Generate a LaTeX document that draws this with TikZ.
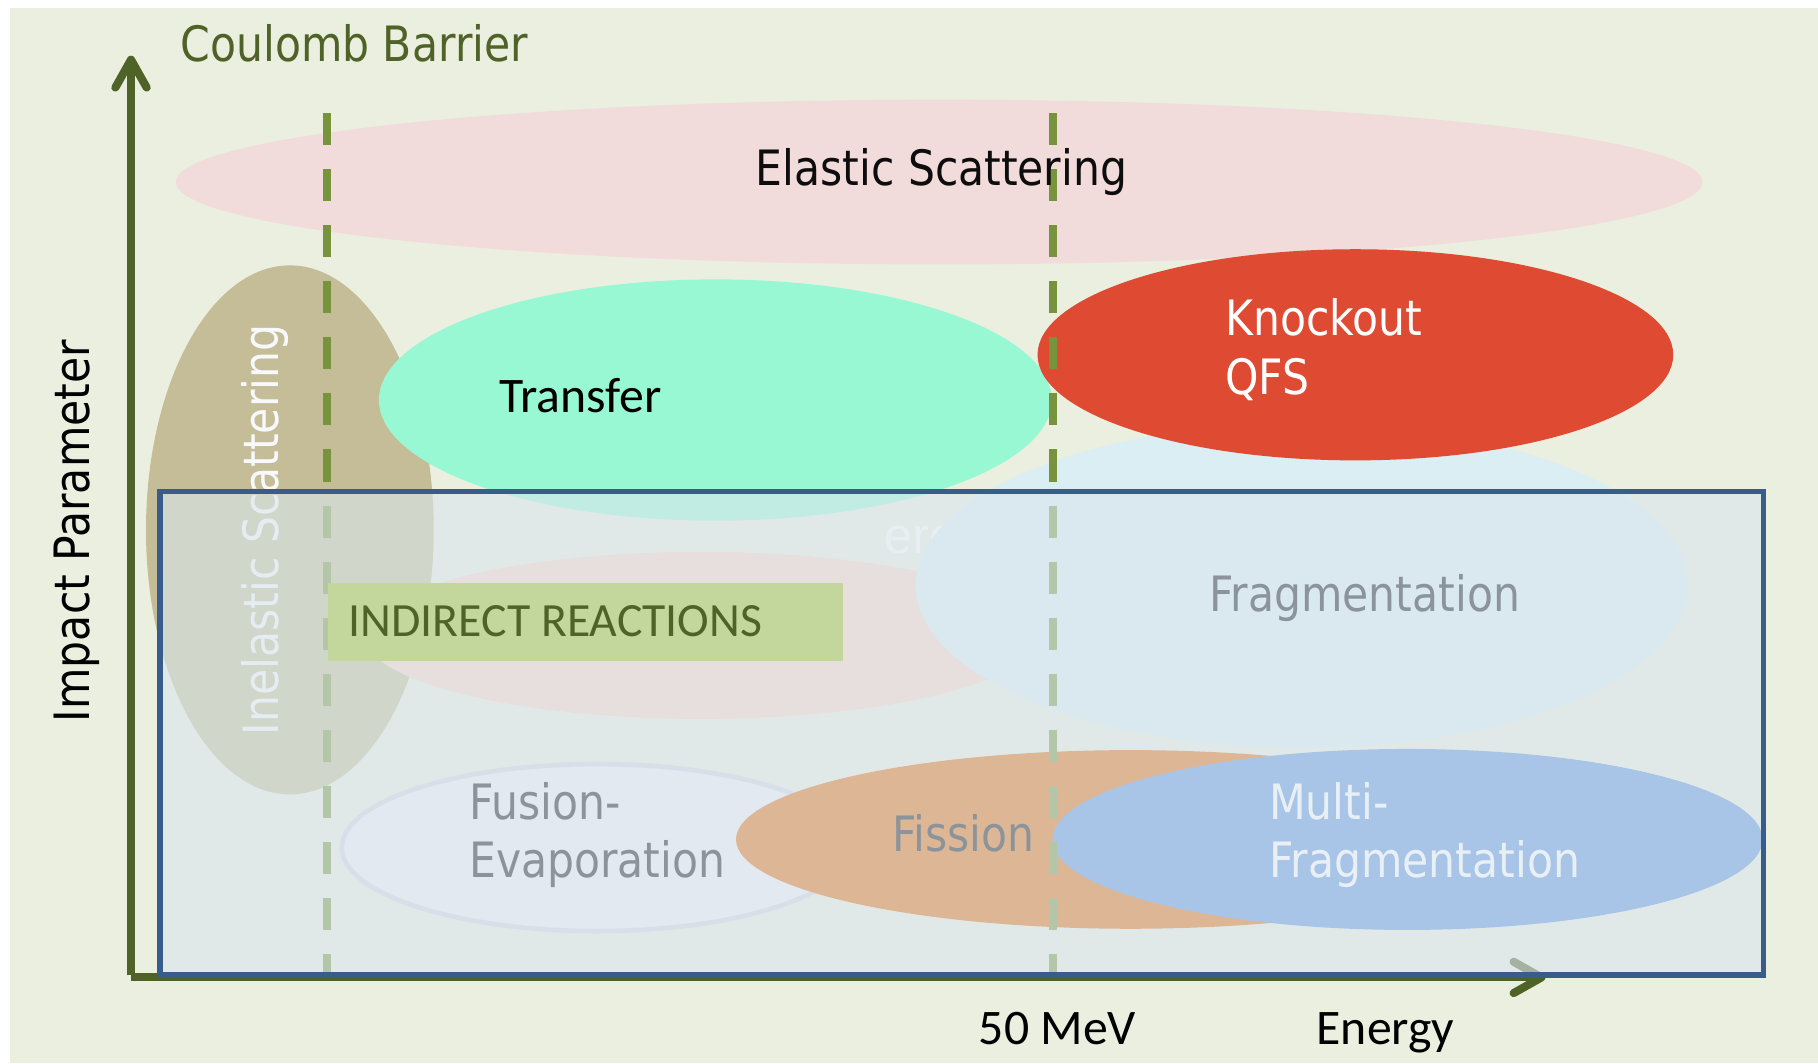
\documentclass[tikz,border=0pt]{standalone}
\usepackage{fontspec}
\setmainfont{Carlito}
\newfontfamily\tahoma[FakeStretch=0.873]{DejaVu Sans}
\newfontfamily\arialf{Liberation Sans}
\usetikzlibrary{shapes.geometric,arrows.meta}
\definecolor{bgcol}{RGB}{235,239,223}
\definecolor{axiscol}{RGB}{79,98,40}
\definecolor{dashcol}{RGB}{119,147,60}
\definecolor{elasticcol}{RGB}{242,220,219}
\definecolor{inelcol}{RGB}{196,189,151}
\definecolor{transcol}{RGB}{153,248,212}
\definecolor{pinkcol}{RGB}{252,214,200}
\definecolor{knockcol}{RGB}{222,74,50}
\definecolor{fragcol}{RGB}{218,238,243}
\definecolor{fusfill}{RGB}{239,240,247}
\definecolor{fusdraw}{RGB}{216,214,224}
\definecolor{fisscol}{RGB}{228,108,10}
\definecolor{multicol}{RGB}{90,142,222}
\definecolor{ovlcol}{RGB}{218,230,237}
\definecolor{boxcol}{RGB}{56,93,138}
\definecolor{indcol}{RGB}{195,214,155}
\definecolor{greytxt}{RGB}{140,148,155}
\definecolor{multitxt}{RGB}{232,240,246}
\definecolor{inelTxt}{RGB}{248,249,252}
\begin{document}
\begin{tikzpicture}[x=0.01cm,y=-0.01cm,
  blob/.style={ellipse, inner sep=0pt, draw=none},
  tah/.style={font=\tahoma\fontsize{11.95}{14}\selectfont, inner sep=0pt},
  cal/.style={font=\fontsize{12.2}{14}\selectfont, inner sep=0pt},
  axisline/.style={draw=axiscol, line width=0.07cm, -{Straight Barb[length=0.24cm,width=0.27cm,round]}},
  cbline/.style={draw=dashcol, line width=0.07cm, dash pattern=on 0.276cm off 0.207cm}]
\useasboundingbox (0,0) rectangle (1568,917);
\fill[bgcol] (8.6,6.9) rectangle (1568,917);
% ellipses
\node[blob, fill=elasticcol, minimum width=13.16cm, minimum height=1.42cm] (elastic) at (810,157) {};
\node[blob, fill=inelcol, minimum width=2.48cm, minimum height=4.56cm] (inel) at (250,457) {};
\node[blob, fill=transcol, minimum width=5.80cm, minimum height=2.08cm] (transfer) at (617,345) {};
\node[blob, fill=pinkcol, minimum width=5.80cm, minimum height=1.44cm] (pinkb) at (605,548) {};
\node[tah, font=\arialf\fontsize{12.5}{14}\selectfont, text=white, anchor=base west] (er) at (762,477) {ere};
\node[blob, fill=fragcol, minimum width=6.66cm, minimum height=2.80cm] (frag) at (1123,505) {};
\node[blob, fill=knockcol, minimum width=5.48cm, minimum height=1.82cm] (knock) at (1169,306) {};
\node[blob, fill=fusfill, draw=fusdraw, line width=0.04cm, minimum width=4.40cm, minimum height=1.44cm] (fusion) at (515,731) {};
\node[blob, fill=fisscol, minimum width=6.80cm, minimum height=1.54cm] (fission) at (975,724) {};
\node[blob, fill=multicol, minimum width=6.12cm, minimum height=1.56cm] (multi) at (1214,724) {};
% Coulomb barrier and 50 MeV lines
\coordinate (cbtop) at (282,97.7);
\coordinate (cbbot) at (282,840);
\coordinate (mevtop) at (908,97.7);
\coordinate (mevbot) at (908,840);
\draw[cbline] (cbtop) -- (cbbot);
\draw[cbline] (mevtop) -- (mevbot);
\node[tah, text=inelTxt, rotate=90, anchor=base] (ineltxt) at (240,457) {Inelastic Scattering};
% axes
\coordinate (O) at (113,843);
\coordinate (Ov) at (113,841);
\coordinate (ytip) at (113,48);
\coordinate (xtip) at (1333,843);
\draw[axisline] (Ov) -- (ytip);
\draw[axisline] (O) -- (xtip);
% indirect reactions overlay
\filldraw[fill=ovlcol, fill opacity=0.615, draw=boxcol, line width=0.045cm] (138,424) rectangle (1521,841);
\node[fill=indcol, minimum width=4.44cm, minimum height=0.67cm, inner sep=0pt, anchor=north west] (indbox) at (282,502) {};
\node[cal, font=\fontsize{11.7}{14}\selectfont, text=axiscol, anchor=base west] (indtxt) at (300,549) {INDIRECT REACTIONS};
% texts
\node[tah, text=axiscol, anchor=base west] (coulomb) at (155,53) {Coulomb Barrier};
\node[tah, text=black!95, anchor=base] (elastictxt) at (812,160) {Elastic Scattering};
\node[cal, text=black, anchor=base west] (transtxt) at (430,356) {Transfer};
\node[tah, text=white, anchor=base west] (knocktxt) at (1056,289) {Knockout};
\node[tah, text=white, anchor=base west] (qfstxt) at (1056,340) {QFS};
\node[tah, text=greytxt, anchor=base] (fragtxt) at (1177,527) {Fragmentation};
\node[tah, text=greytxt, anchor=base west] (fustxt) at (404,707) {Fusion-};
\node[tah, text=greytxt, anchor=base west] (evaptxt) at (404,757) {Evaporation};
\node[tah, text=greytxt, anchor=base west] (fisstxt) at (769,734) {Fission};
\node[tah, text=multitxt, anchor=base west] (multitxt) at (1094,707) {Multi-};
\node[tah, text=multitxt, anchor=base west] (mfragtxt) at (1094,757) {Fragmentation};
\node[tah, text=black, rotate=90, anchor=base] (impact) at (77,458) {Impact Parameter};
\node[cal, text=black, anchor=base] (mev) at (912,901) {50 MeV};
\node[cal, text=black, anchor=base] (energy) at (1195,901) {Energy};
\end{tikzpicture}
\end{document}
